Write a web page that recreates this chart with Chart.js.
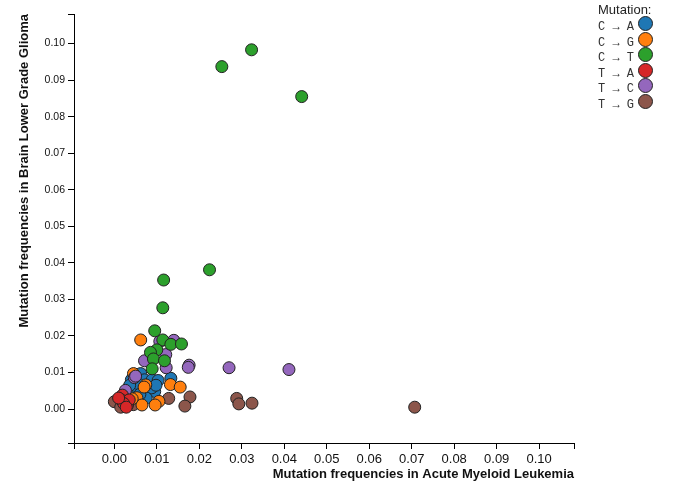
<!DOCTYPE html>
<html lang="en">
<head>
    <meta charset="UTF-8">
    <title>Mutation frequencies</title>
    <script src="https://cdn.jsdelivr.net/npm/chart.js"></script>
    <style>
        body { margin: 0; background: #fff; }
        .wrap { position: relative; width: 675px; height: 494px; }
        .legend { position: absolute; left: 598px; top: 0; font-family: "Liberation Sans", Arial, sans-serif; color: #222; }
        .legend-title { font-size: 13px; line-height: 19px; }
        .legend-row { position: absolute; left: 0; height: 16px; width: 70px; }
        .legend-row span { font-family: "Liberation Mono", "Courier New", monospace; font-size: 12px; line-height: 16px; white-space: pre; color: #333; }
        .legend-row i { position: absolute; left: 40px; top: 0; width: 13px; height: 13px; border-radius: 50%; border: 1px solid #222; }
    </style>
</head>
<body>
    <div class="wrap">
        <canvas id="scatter" width="675" height="494"></canvas>
        <div class="legend" id="legend"></div>
    </div>

    <script>
        // mutation types and their colours
        const mutationLabels = ['C \u2192 A', 'C \u2192 G', 'C \u2192 T', 'T \u2192 A', 'T \u2192 C', 'T \u2192 G'];
        const mutationColors = ['#1f77b4', '#ff7f0e', '#2ca02c', '#d62728', '#9467bd', '#8c564b'];

        // x = Acute Myeloid Leukemia, y = Brain Lower Grade Glioma
        const cToA = [
            [0.0062, 0.0097], [0.0040, 0.0080], [0.0071, 0.0080], [0.0089, 0.0080], [0.0103, 0.0078],
            [0.0133, 0.0084], [0.0047, 0.0055], [0.0095, 0.0048], [0.0088, 0.0058], [0.0055, 0.0070],
            [0.0030, 0.0045], [0.0075, 0.0030], [0.0060, 0.0040], [0.0036, 0.0065], [0.0098, 0.0065]
        ];
        const cToG = [
            [0.0062, 0.0189], [0.0045, 0.0097], [0.0132, 0.0067], [0.0155, 0.0060], [0.0074, 0.0066],
            [0.0053, 0.0031], [0.0065, 0.0011], [0.0105, 0.0021], [0.0096, 0.0011], [0.0042, 0.0028],
            [0.0070, 0.0060]
        ];
        const cToT = [
            [0.0253, 0.0937], [0.0323, 0.0983], [0.0441, 0.0855], [0.0224, 0.0381], [0.0116, 0.0353],
            [0.0114, 0.0277], [0.0095, 0.0214], [0.0114, 0.0189], [0.0133, 0.0177], [0.0158, 0.0178],
            [0.0100, 0.0162], [0.0085, 0.0155], [0.0092, 0.0137], [0.0118, 0.0132], [0.0089, 0.0110]
        ];
        const tToA = [
            [0.0019, 0.0038], [0.0016, 0.0025], [0.0031, 0.0011], [0.0035, 0.0025], [0.0022, 0.0015],
            [0.0010, 0.0030], [0.0028, 0.0005]
        ];
        const tToC = [
            [0.0107, 0.0185], [0.0140, 0.0188], [0.0121, 0.0149], [0.0071, 0.0132], [0.0176, 0.0120],
            [0.0174, 0.0114], [0.0122, 0.0113], [0.0047, 0.0086], [0.0026, 0.0051], [0.0270, 0.0113],
            [0.0411, 0.0108], [0.0050, 0.0090]
        ];
        const tToG = [
            [0.0067, 0.0042], [0.0007, 0.0022], [0.0128, 0.0029], [0.0178, 0.0033], [0.0166, 0.0008],
            [0.0288, 0.0029], [0.0293, 0.0014], [0.0324, 0.0016], [0.0707, 0.0005], [0.0000, 0.0020],
            [0.0045, 0.0012], [0.0015, 0.0005]
        ];
        const seriesValues = [cToA, cToG, cToT, tToA, tToC, tToG];

        const xTicks = [0, 0.01, 0.02, 0.03, 0.04, 0.05, 0.06, 0.07, 0.08, 0.09, 0.10];
        const yTicks = [0, 0.01, 0.02, 0.03, 0.04, 0.05, 0.06, 0.07, 0.08, 0.09, 0.10];

        // draw order: lower number ends up on top
        const drawOrder = [5, 4, 1, 2, 3, 6];

        const font = '"Liberation Sans", Arial, sans-serif';

        const datasets = seriesValues.map((vals, i) => ({
            label: mutationLabels[i],
            data: vals.map(p => ({ x: p[0], y: p[1] })),
            backgroundColor: mutationColors[i],
            borderColor: '#222',
            borderWidth: 1,
            pointRadius: 6,
            pointHoverRadius: 6,
            order: drawOrder[i]
        }));

        // little outer ticks at the ends of each axis, like d3 draws them
        const endTicks = {
            id: 'endTicks',
            afterDraw(chart) {
                const { ctx, chartArea: a } = chart;
                ctx.save();
                ctx.strokeStyle = '#000';
                ctx.lineWidth = 1;
                ctx.beginPath();
                ctx.moveTo(a.left - 6, a.top + 0.5); ctx.lineTo(a.left, a.top + 0.5);
                ctx.moveTo(a.left - 6, a.bottom + 0.5); ctx.lineTo(a.left, a.bottom + 0.5);
                ctx.moveTo(a.left + 0.5, a.bottom); ctx.lineTo(a.left + 0.5, a.bottom + 6);
                ctx.moveTo(a.right + 0.5, a.bottom); ctx.lineTo(a.right + 0.5, a.bottom + 6);
                ctx.stroke();
                ctx.restore();
            }
        };

        new Chart(document.getElementById('scatter'), {
            type: 'scatter',
            data: { datasets: datasets },
            options: {
                responsive: false,
                animation: false,
                devicePixelRatio: 1,
                layout: { padding: { top: 14, right: 101, left: 0, bottom: 0 } },
                plugins: {
                    legend: { display: false },
                    tooltip: { enabled: false }
                },
                scales: {
                    x: {
                        type: 'linear',
                        min: -0.0095,
                        max: 0.1082,
                        afterBuildTicks: s => { s.ticks = xTicks.map(v => ({ value: v })); },
                        afterFit: s => { s.height = 51; },
                        grid: { drawOnChartArea: false, drawTicks: true, tickLength: 6, color: '#000' },
                        border: { color: '#000', width: 1 },
                        ticks: {
                            color: '#111',
                            padding: 3,
                            font: { family: font, size: 13 },
                            callback: v => v.toFixed(2),
                            maxRotation: 0
                        },
                        title: {
                            display: true,
                            text: 'Mutation frequencies in Acute Myeloid Leukemia',
                            align: 'end',
                            color: '#111',
                            font: { family: font, size: 13, weight: 'bold' },
                            padding: { top: 0, bottom: 12 }
                        }
                    },
                    y: {
                        type: 'linear',
                        min: -0.0093,
                        max: 0.1081,
                        afterBuildTicks: s => { s.ticks = yTicks.map(v => ({ value: v })); },
                        afterFit: s => { s.width = 74; },
                        grid: { drawOnChartArea: false, drawTicks: true, tickLength: 6, color: '#000' },
                        border: { color: '#000', width: 1 },
                        ticks: {
                            color: '#111',
                            padding: 3,
                            font: { family: font, size: 10.5 },
                            callback: v => v.toFixed(2)
                        },
                        title: {
                            display: true,
                            text: 'Mutation frequencies in Brain Lower Grade Glioma',
                            align: 'end',
                            color: '#111',
                            font: { family: font, size: 13, weight: 'bold' },
                            padding: { top: 17, bottom: 0 }
                        }
                    }
                }
            },
            plugins: [endTicks]
        });

        // legend on the right
        const legend = document.getElementById('legend');
        const title = document.createElement('div');
        title.className = 'legend-title';
        title.textContent = 'Mutation:';
        legend.appendChild(title);
        mutationLabels.forEach((lab, i) => {
            const row = document.createElement('div');
            row.className = 'legend-row';
            row.style.top = (16 + i * 15.6) + 'px';
            const txt = document.createElement('span');
            txt.textContent = lab;
            const dot = document.createElement('i');
            dot.style.background = mutationColors[i];
            row.appendChild(txt);
            row.appendChild(dot);
            legend.appendChild(row);
        });
    </script>
</body>
</html>
